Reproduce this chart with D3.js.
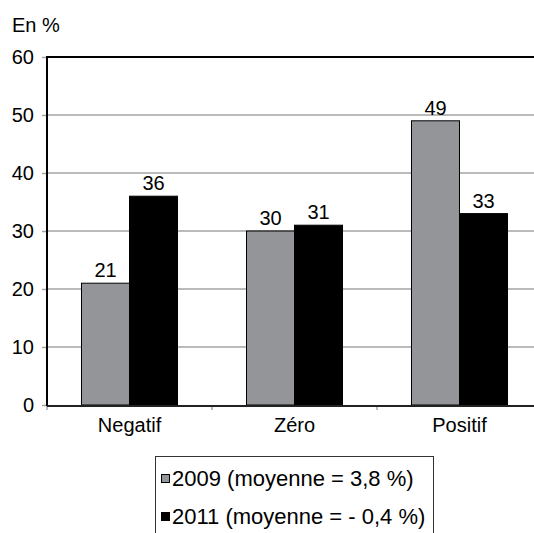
<!DOCTYPE html>
<html>
<head>
<meta charset="utf-8">
<script src="https://cdnjs.cloudflare.com/ajax/libs/d3/7.8.5/d3.min.js"></script>
<style>
  body { margin: 0; background: #fff; }
  svg { display: block; font-family: "Liberation Sans", Arial, Helvetica, sans-serif; }
</style>
</head>
<body>
<svg></svg>
<script>
var width = 534;
var height = 533;

var categories = ["Negatif", "Zéro", "Positif"];
var series = ["2009", "2011"];
var values2009 = [21, 30, 49];
var values2011 = [36, 31, 33];
var legendLabels = ["2009 (moyenne = 3,8 %)", "2011 (moyenne = - 0,4 %)"];
var yTicks = [0, 10, 20, 30, 40, 50, 60];
var colors = ["#939598", "#000000"];

var svg = d3.select('svg')
            .attr("width", width)
            .attr("height", height)

var mLeft = 47, mTop = 57, mBottom = 405, mRight = 542;

var x0 = d3.scaleBand()
           .domain(categories)
           .range([mLeft, mRight])
           .padding(0)

var x1 = d3.scaleBand()
           .domain(series)
           .range([0, 96])

var y = d3.scaleLinear()
          .domain([0, 60])
          .range([mBottom, mTop])

// gridlines
svg.append("g")
   .selectAll("line")
   .data(yTicks.filter(d => d > 0 && d < 60))
   .enter()
   .append("line")
   .attr("x1", mLeft)
   .attr("x2", width)
   .attr("y1", d => y(d))
   .attr("y2", d => y(d))
   .attr("stroke", "#a3a3a3")
   .attr("stroke-width", 1.5)

// y axis
var yAxis = svg.append("g")
   .attr("transform", "translate(" + mLeft + ",0)")
   .call(d3.axisLeft(y).tickValues(yTicks).tickSize(5).tickPadding(8))
yAxis.select(".domain").remove()
yAxis.selectAll(".tick line").attr("stroke", "#a3a3a3").attr("stroke-width", 1.5)
yAxis.selectAll(".tick text")
     .attr("font-size", 20)
     .attr("font-family", "Liberation Sans, Arial, sans-serif")
     .attr("fill", "#000")

// x axis labels
var xAxis = svg.append("g")
   .attr("transform", "translate(0," + mBottom + ")")
   .call(d3.axisBottom(x0).tickSize(0).tickPadding(13))
xAxis.select(".domain").remove()
xAxis.selectAll(".tick text")
     .attr("font-size", 20)
     .attr("font-family", "Liberation Sans, Arial, sans-serif")
     .attr("fill", "#000")

// x ticks at category boundaries
svg.append("g")
   .selectAll("line")
   .data(categories)
   .enter()
   .append("line")
   .attr("x1", d => x0(d))
   .attr("x2", d => x0(d))
   .attr("y1", mBottom)
   .attr("y2", mBottom + 5)
   .attr("stroke", "#a3a3a3")
   .attr("stroke-width", 1.5)

// bars
var rows = categories.map((c, i) => ({cat: c, vals: [values2009[i], values2011[i]]}))
var offset = (x0.bandwidth() - 96) / 2

var groups = svg.append("g")
   .selectAll("g")
   .data(rows)
   .enter()
   .append("g")
   .attr("transform", d => "translate(" + (x0(d.cat) + offset) + ",0)")

groups.selectAll("rect")
   .data(d => d.vals.map((v, j) => ({s: series[j], v: v, j: j})))
   .enter()
   .append("rect")
   .attr("x", d => x1(d.s))
   .attr("y", d => y(d.v))
   .attr("width", x1.bandwidth())
   .attr("height", d => y(0) - y(d.v))
   .attr("fill", d => colors[d.j])
   .attr("stroke", "#000")
   .attr("stroke-width", 1)

groups.selectAll("text")
   .data(d => d.vals.map((v, j) => ({s: series[j], v: v})))
   .enter()
   .append("text")
   .attr("x", d => x1(d.s) + x1.bandwidth() / 2)
   .attr("y", d => y(d.v) - 6)
   .attr("text-anchor", "middle")
   .attr("font-size", 20)
   .text(d => d.v)

// frame: left axis, top border, bottom axis
svg.append("line")
   .attr("x1", mLeft).attr("x2", mLeft)
   .attr("y1", mTop).attr("y2", mBottom + 1)
   .attr("stroke", "#000").attr("stroke-width", 2)
svg.append("line")
   .attr("x1", mLeft - 1).attr("x2", width)
   .attr("y1", mTop).attr("y2", mTop)
   .attr("stroke", "#000").attr("stroke-width", 2)
svg.append("line")
   .attr("x1", mLeft).attr("x2", width)
   .attr("y1", mBottom + 1).attr("y2", mBottom + 1)
   .attr("stroke", "#222").attr("stroke-width", 2)

// title
svg.append("text")
   .attr("x", 12)
   .attr("y", 32)
   .attr("font-size", 20)
   .text("En %")

// legend
var legend = svg.append("g")
legend.append("rect")
   .attr("x", 155.5)
   .attr("y", 456.5)
   .attr("width", 278)
   .attr("height", 90)
   .attr("fill", "none")
   .attr("stroke", "#333")
   .attr("stroke-width", 1)

var items = legend.selectAll("g")
   .data(legendLabels)
   .enter()
   .append("g")
   .attr("transform", (d, i) => "translate(0," + (i * 38) + ")")

items.append("rect")
   .attr("x", 161.5)
   .attr("y", 474.5)
   .attr("width", 8)
   .attr("height", 8)
   .attr("fill", (d, i) => colors[i])
   .attr("stroke", "#000")
   .attr("stroke-width", 1)

items.append("text")
   .attr("x", 172)
   .attr("y", 486)
   .attr("font-size", 22)
   .text(d => d)
</script>
</body>
</html>
